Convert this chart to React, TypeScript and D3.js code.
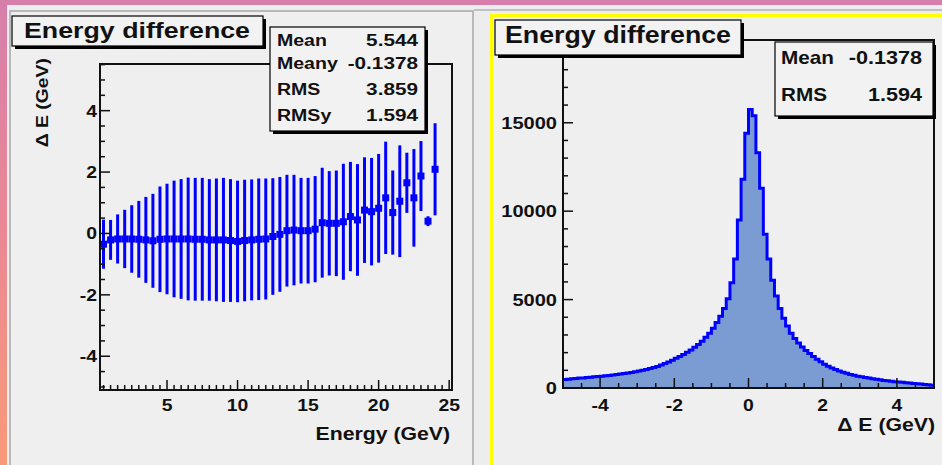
import { useEffect, useRef } from 'react';
import * as d3 from 'd3';

// Profile: mean energy difference vs energy (left pad)
const profileEnergy = [
    0.5, 1, 1.5, 2, 2.5, 3, 3.5, 4, 4.5, 5, 5.5, 6, 6.5, 7, 7.5, 8,
    8.5, 9, 9.5, 10, 10.5, 11, 11.5, 12, 12.5, 13, 13.5, 14, 14.5, 15, 15.5, 16,
    16.5, 17, 17.5, 18, 18.5, 19, 19.5, 20, 20.5, 21, 21.5, 22, 22.5, 23, 23.5, 24
];
const profileMean = [
    -0.35, -0.21, -0.18, -0.18, -0.18, -0.19, -0.21, -0.24, -0.19, -0.18, -0.18, -0.18, -0.18, -0.19, -0.19, -0.21,
    -0.21, -0.21, -0.23, -0.26, -0.23, -0.21, -0.19, -0.18, -0.1, -0.03, 0.09, 0.11, 0.09, 0.09, 0.14, 0.35,
    0.33, 0.33, 0.38, 0.55, 0.44, 0.76, 0.71, 0.82, 1.16, 0.68, 1.05, 1.65, 1.16, 1.87, 0.4, 2.09
];
const profileRms = [
    0.8, 0.65, 0.8, 0.95, 1.1, 1.25, 1.4, 1.53, 1.72, 1.8, 1.9, 1.95, 2.0, 2.0, 2.0, 1.98,
    2.0, 2.02, 2.0, 1.98, 1.98, 1.97, 1.98, 1.97, 1.9, 1.87, 1.82, 1.8, 1.72, 1.72, 1.73, 1.79,
    1.7, 1.72, 1.89, 1.78, 1.82, 1.72, 1.75, 1.77, 1.83, 1.37, 1.82, 0.98, 1.59, 1.14, 0.16, 1.5
];

// Histogram of energy difference (right pad), 100 bins over [-5, 5]
const histRange = [-5, 5];
const histCounts = [
    480, 500, 520, 540, 560, 560, 590, 610, 630, 650,
    670, 690, 710, 730, 760, 790, 820, 850, 880, 920,
    960, 1000, 1050, 1100, 1160, 1220, 1300, 1380, 1470, 1570,
    1680, 1780, 1900, 2020, 2150, 2300, 2460, 2650, 2870, 3100,
    3380, 3700, 4060, 4500, 5050, 5950, 7300, 9500, 11800, 14400,
    15750, 15400, 13300, 11300, 8700, 7300, 6100, 5200, 4500, 3950,
    3500, 3100, 2800, 2550, 2320, 2120, 1950, 1780, 1620, 1480,
    1350, 1230, 1130, 1040, 960, 890, 830, 770, 720, 670,
    630, 590, 560, 530, 490, 460, 430, 410, 380, 360,
    340, 320, 300, 280, 260, 240, 220, 200, 180, 160
];

const leftXTicks = [5, 10, 15, 20, 25];
const leftYTicks = [-4, -2, 0, 2, 4];
const rightXTicks = [-4, -2, 0, 2, 4];
const rightYTicks = [0, 5000, 10000, 15000];

const statsLeft = [['Mean', '5.544'], ['Meany', '-0.1378'], ['RMS', '3.859'], ['RMSy', '1.594']];
const statsRight = [['Mean', '-0.1378'], ['RMS', '1.594']];

const FONT = '"Liberation Sans", Arial, Helvetica, sans-serif';
const BLUE = '#0000ff';
const PAD_BG = '#efefef';

type Sel = d3.Selection<any, unknown, null, undefined>;

function label(parent: Sel, x: number, y: number, s: string, size: number, anchor = 'start', sx = 1.14) {
    return parent.append('text')
        .attr('transform', `translate(${x},${y}) scale(${sx},1)`)
        .attr('text-anchor', anchor)
        .attr('font-family', FONT)
        .attr('font-weight', 'bold')
        .attr('font-size', size)
        .attr('fill', '#111')
        .text(s);
}

function shadowBox(parent: Sel, x: number, y: number, w: number, h: number) {
    parent.append('rect').attr('x', x + 3).attr('y', y + 3).attr('width', w).attr('height', h).attr('fill', '#000');
    parent.append('rect').attr('x', x).attr('y', y).attr('width', w).attr('height', h)
        .attr('fill', '#f2f2f2').attr('stroke', '#000').attr('stroke-width', 1.2);
}

export default function App() {
    const svgRef = useRef<SVGSVGElement>(null);

    useEffect(() => {
        if (!svgRef.current) return;
        const svg = d3.select(svgRef.current);
        svg.selectAll('*').remove();

        // Background gradient
        const defs = svg.append('defs');
        const grad = defs.append('linearGradient').attr('id', 'bg').attr('x1', 0).attr('y1', 0).attr('x2', 0).attr('y2', 1);
        grad.append('stop').attr('offset', '0%').attr('stop-color', '#d67fab');
        grad.append('stop').attr('offset', '50%').attr('stop-color', '#ea8894');
        grad.append('stop').attr('offset', '100%').attr('stop-color', '#f89a78');
        svg.append('rect').attr('width', 942).attr('height', 465).attr('fill', 'url(#bg)');

        // Pads
        svg.append('rect').attr('x', 7).attr('y', 5).attr('width', 935).attr('height', 460).attr('fill', '#ededed');
        svg.append('rect').attr('x', 10).attr('y', 11).attr('width', 463).attr('height', 460)
            .attr('fill', PAD_BG).attr('stroke', '#a8a8a8').attr('stroke-width', 1.5);
        svg.append('line').attr('x1', 474).attr('x2', 942).attr('y1', 10).attr('y2', 10).attr('stroke', '#b0b0b0').attr('stroke-width', 1.5);
        svg.append('rect').attr('x', 491.5).attr('y', 15.5).attr('width', 470).attr('height', 470)
            .attr('fill', PAD_BG).attr('stroke', '#ffff00').attr('stroke-width', 3);

        // ---------- Left pad: profile ----------
        const L = { left: 100, right: 452, top: 64, bottom: 390 };
        const xL = d3.scaleLinear().domain([0.25, 25.2]).range([L.left, L.right]);
        const yL = d3.scaleLinear().domain([-5.1, 5.52]).range([L.bottom, L.top]);
        const gl = svg.append('g');

        // error bars
        gl.selectAll('.err').data(profileEnergy).enter().append('line')
            .attr('x1', d => xL(d)).attr('x2', d => xL(d))
            .attr('y1', (_, i) => yL(profileMean[i] + profileRms[i]))
            .attr('y2', (_, i) => yL(profileMean[i] - profileRms[i]))
            .attr('stroke', BLUE).attr('stroke-width', 3);
        // markers
        gl.selectAll('.mk').data(profileEnergy).enter().append('rect')
            .attr('x', d => xL(d) - 3.5).attr('y', (_, i) => yL(profileMean[i]) - 3.5)
            .attr('width', 7).attr('height', 7).attr('fill', BLUE);

        // frame
        gl.append('rect').attr('x', L.left).attr('y', L.top).attr('width', L.right - L.left).attr('height', L.bottom - L.top)
            .attr('fill', 'none').attr('stroke', '#111').attr('stroke-width', 2);

        // y ticks
        d3.range(-5, 5.51, 0.5).forEach(v => {
            const major = leftYTicks.includes(v);
            gl.append('line').attr('x1', L.left).attr('x2', L.left + (major ? 10 : 5))
                .attr('y1', yL(v)).attr('y2', yL(v)).attr('stroke', '#111').attr('stroke-width', 1.5);
        });
        leftYTicks.forEach(v => label(gl, 97, yL(v) + 6, String(v), 17, 'end'));
        // x ticks
        d3.range(0.5, 25.01, 0.5).forEach(v => {
            const major = leftXTicks.includes(v);
            gl.append('line').attr('x1', xL(v)).attr('x2', xL(v))
                .attr('y1', L.bottom).attr('y2', L.bottom - (major ? 10 : 5)).attr('stroke', '#111').attr('stroke-width', 1.5);
        });
        leftXTicks.forEach(v => label(gl, xL(v), 411, String(v), 17, 'middle'));

        label(gl, 450, 440, 'Energy (GeV)', 18, 'end', 1.18);
        gl.append('text')
            .attr('transform', 'translate(48,58) rotate(-90) scale(1.14,1)')
            .attr('text-anchor', 'end').attr('font-family', FONT).attr('font-weight', 'bold')
            .attr('font-size', 17).attr('fill', '#111').text('Δ E (GeV)');

        // title + stats
        shadowBox(gl, 12, 16, 251, 30);
        gl.append('text').attr('x', 24).attr('y', 38).attr('font-family', FONT).attr('font-weight', 'bold')
            .attr('font-size', 22).attr('textLength', 226).attr('lengthAdjust', 'spacingAndGlyphs').attr('fill', '#111')
            .text('Energy difference');
        shadowBox(gl, 270, 27, 155, 104);
        statsLeft.forEach(([k, v], i) => {
            const by = [46, 69, 95, 121][i];
            label(gl, 277, by, k, 17, 'start', 1.15);
            label(gl, 418, by, v, 17, 'end', 1.22);
        });

        // ---------- Right pad: histogram ----------
        const R = { left: 563, right: 934, top: 40, bottom: 388 };
        const xR = d3.scaleLinear().domain(histRange).range([R.left, R.right]);
        const yR = d3.scaleLinear().domain([0, 19680]).range([R.bottom, R.top]);
        const gr = svg.append('g');
        const bw = (histRange[1] - histRange[0]) / histCounts.length;
        const pts: [number, number][] = histCounts.map((c, i) => [histRange[0] + i * bw, c]);
        pts.push([histRange[1], histCounts[histCounts.length - 1]]);

        const area = d3.area<[number, number]>().curve(d3.curveStepAfter)
            .x(d => xR(d[0])).y0(yR(0)).y1(d => yR(d[1]));
        const line = d3.line<[number, number]>().curve(d3.curveStepAfter)
            .x(d => xR(d[0])).y(d => yR(d[1]));
        gr.append('path').attr('d', area(pts)).attr('fill', '#7b9bd3');
        gr.append('path').attr('d', line(pts)).attr('fill', 'none').attr('stroke', BLUE).attr('stroke-width', 3)
            .attr('stroke-linejoin', 'miter');

        gr.append('rect').attr('x', R.left).attr('y', R.top).attr('width', R.right - R.left).attr('height', R.bottom - R.top)
            .attr('fill', 'none').attr('stroke', '#111').attr('stroke-width', 2);

        d3.range(0, 19001, 1000).forEach(v => {
            const major = v % 5000 === 0;
            gr.append('line').attr('x1', R.left).attr('x2', R.left + (major ? 10 : 5))
                .attr('y1', yR(v)).attr('y2', yR(v)).attr('stroke', '#111').attr('stroke-width', 1.5);
        });
        rightYTicks.forEach(v => label(gr, 557, yR(v) + 6, String(v), 17, 'end', 1.18));
        d3.range(-5, 5.01, 0.5).forEach(v => {
            const major = rightXTicks.includes(v);
            gr.append('line').attr('x1', xR(v)).attr('x2', xR(v))
                .attr('y1', R.bottom).attr('y2', R.bottom - (major ? 10 : 5)).attr('stroke', '#111').attr('stroke-width', 1.5);
        });
        rightXTicks.forEach(v => label(gr, xR(v), 411, String(v), 17, 'middle'));
        label(gr, 935, 431, 'Δ E (GeV)', 18, 'end', 1.18);

        shadowBox(gr, 495, 20, 246, 35);
        gr.append('text').attr('x', 505).attr('y', 43).attr('font-family', FONT).attr('font-weight', 'bold')
            .attr('font-size', 23).attr('textLength', 226).attr('lengthAdjust', 'spacingAndGlyphs').attr('fill', '#111')
            .text('Energy difference');
        shadowBox(gr, 775, 42, 158, 74);
        statsRight.forEach(([k, v], i) => {
            const by = [64, 101][i];
            label(gr, 781, by, k, 18, 'start', 1.15);
            label(gr, 922, by, v, 18, 'end', 1.2);
        });
    }, []);

    return (
        <svg
            ref={svgRef}
            width={942}
            height={465}
            style={{ position: 'absolute', left: 0, top: 0 }}
        />
    );
}
